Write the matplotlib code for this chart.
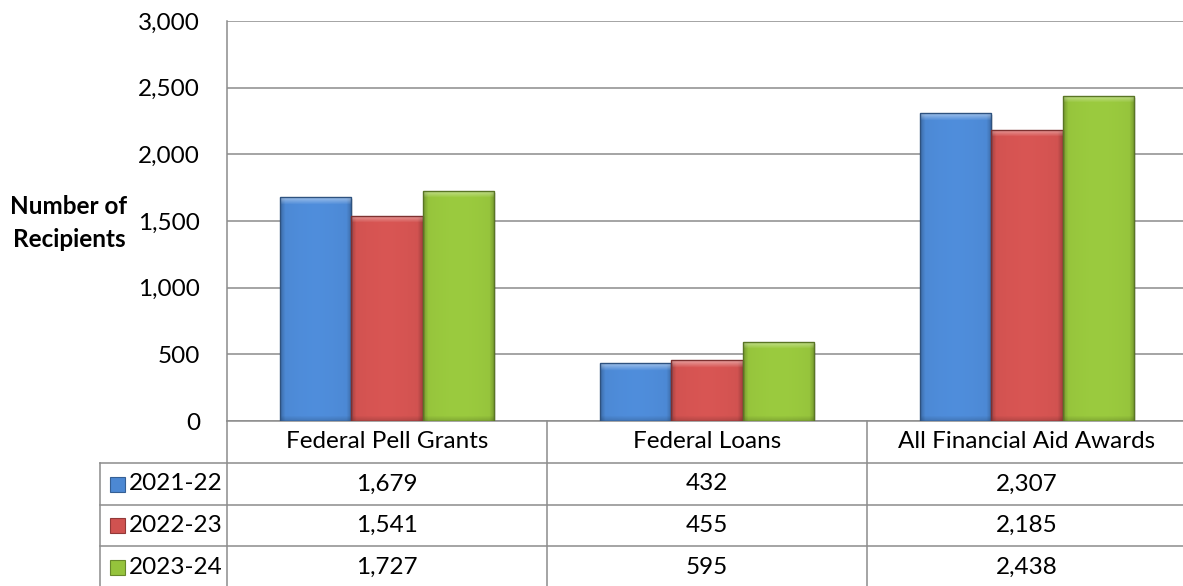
import numpy as np
import matplotlib.pyplot as plt
from matplotlib import colors, ticker, transforms
from matplotlib.patches import Rectangle

categories = ['Federal Pell Grants', 'Federal Loans', 'All Financial Aid Awards']
years = ['2021-22', '2022-23', '2023-24']
values_2021 = [1679, 432, 2307]
values_2022 = [1541, 455, 2185]
values_2023 = [1727, 595, 2438]
series = [values_2021, values_2022, values_2023]
yticks = [0, 500, 1000, 1500, 2000, 2500, 3000]

bar_colors = ['#4c88d3', '#d05250', '#95c33c']
grid_col = '#8c8c8c'

plt.rcParams['font.family'] = ['Lato', 'DejaVu Sans']
fs = 17.5

W, H = 1183, 586
fig = plt.figure(figsize=(W / 100, H / 100), dpi=100)

# plot area in pixels: left 227, right ~1187, 0 at y=421, 3000 at y=21
ax = fig.add_axes([227 / W, (H - 421) / H, (1187 - 227) / W, 400 / H])
ax.set_xlim(-0.5, 2.5)
ax.set_ylim(0, 3000)
ax.set_yticks(yticks)
ax.yaxis.set_major_formatter(ticker.StrMethodFormatter('{x:,.0f}'))
ax.set_xticks([])
ax.tick_params(axis='y', length=0, pad=19.5, labelsize=fs)
ax.grid(axis='y', color=grid_col, linewidth=1.1)
ax.set_axisbelow(True)
for s in ['top', 'right']:
    ax.spines[s].set_visible(False)
ax.spines['left'].set_color(grid_col)
ax.spines['bottom'].set_color(grid_col)
ax.spines['left'].set_linewidth(1.1)
ax.spines['bottom'].set_linewidth(1.1)

bar_w = 1 / 4.5
x = np.arange(len(categories))
px_per_unit = 400 / 3000


def bevel_image(color, h_px):
    base = np.array(colors.to_rgb(color))
    nx = 60
    ny = max(int(h_px), 2)
    t = np.linspace(0, 1, nx)
    # darker near left/right edges
    edge = np.clip(np.minimum(t, 1 - t) / 0.07, 0, 1)
    hf = 0.80 + 0.20 * edge + 0.04 * np.sin(np.pi * t)
    img = base[None, None, :] * hf[None, :, None] * np.ones((ny, nx, 1))
    # light band at the top
    rows = np.arange(ny)
    top = np.clip(1 - rows / 7.0, 0, 1) * 0.45
    img = img + (1 - img) * top[:, None, None]
    # slight darkening at the bottom
    bot = np.clip(1 - (ny - 1 - rows) / 5.0, 0, 1) * 0.15
    img = img * (1 - bot[:, None, None])
    return np.clip(img, 0, 1)


for i, vals in enumerate(series):
    pos = x + (i - 1) * bar_w
    # soft shadow
    ax.bar(pos + 0.006, vals, bar_w, bottom=-15, color='#000000', alpha=0.10,
           edgecolor='none', zorder=1.5)
    bars = ax.bar(pos, vals, bar_w, color=bar_colors[i], edgecolor='none', zorder=2)
    for b, v in zip(bars, vals):
        x0 = b.get_x()
        img = bevel_image(bar_colors[i], v * px_per_unit)
        im = ax.imshow(img, extent=(x0, x0 + bar_w, 0, v), aspect='auto',
                       zorder=3, interpolation='bilinear')
        im.set_clip_path(b)
    dark = np.array(colors.to_rgb(bar_colors[i])) * 0.6
    ax.bar(pos, vals, bar_w, fill=False, edgecolor=dark, linewidth=1.0, zorder=4)

ax.set_xlim(-0.5, 2.5)
ax.set_ylim(0, 3000)

# overlay in pixel coordinates for the data table and axis title
tab = fig.add_axes([0, 0, 1, 1])
tab.set_xlim(0, W)
tab.set_ylim(H, 0)
tab.axis('off')
tab.patch.set_visible(False)

mix = transforms.blended_transform_factory(ax.transData, tab.transData)

row_top = 421
header_bot = 463
row_lines = [463, 505, 546, 588]
legend_left = 100

# vertical lines
for xb in [-0.5, 0.5, 1.5]:
    tab.plot([xb, xb], [row_top, H + 2], color=grid_col, lw=1.1, transform=mix, clip_on=False)
tab.plot([legend_left, legend_left], [header_bot, H + 2], color=grid_col, lw=1.1)
# horizontal lines
for yl in row_lines[:-1]:
    tab.plot([legend_left, W + 5], [yl, yl], color=grid_col, lw=1.1)

# header text
for xi, cat in zip(x, categories):
    tab.text(xi, (row_top + header_bot) / 2, cat, ha='center', va='center',
             fontsize=fs, transform=mix)

# rows
for r, (yr, vals) in enumerate(zip(years, series)):
    yc = (row_lines[r] + row_lines[r + 1]) / 2
    for xi, v in zip(x, vals):
        tab.text(xi, yc, f'{v:,}', ha='center', va='center', fontsize=fs, transform=mix)
    tab.add_patch(Rectangle((110, yc - 7.5), 15, 15, facecolor=bar_colors[r],
                            edgecolor=np.array(colors.to_rgb(bar_colors[r])) * 0.7, lw=0.8))
    tab.text(129, yc, yr, ha='left', va='center', fontsize=fs)

tab.text(69, 223, 'Number of\nRecipients', ha='center', va='center',
         fontsize=17.5, fontweight='bold', linespacing=1.5)

fig.savefig('out.png', dpi=100)
